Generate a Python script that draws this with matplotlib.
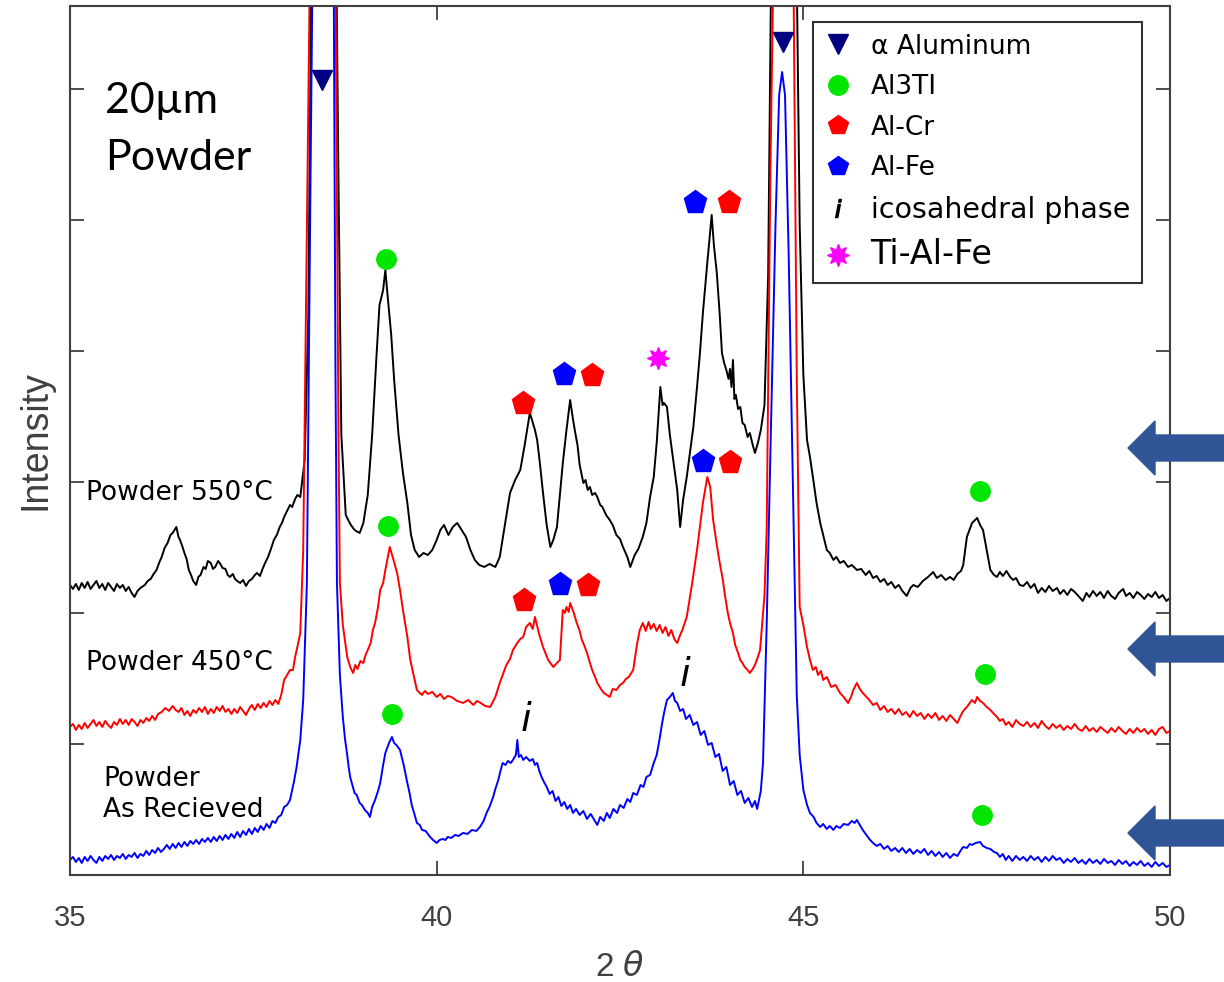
import numpy as np
import matplotlib
matplotlib.use("Agg")
import matplotlib.pyplot as plt
from matplotlib.lines import Line2D
from matplotlib.patches import Polygon

# XRD patterns: (2-theta in deg, intensity a.u.)
pattern_550 = [
    (35.00, 290), (35.04, 286), (35.08, 291), (35.12, 285), (35.16, 292), (35.20, 287),
    (35.24, 293), (35.28, 286), (35.32, 290), (35.36, 294), (35.40, 287), (35.44, 291),
    (35.48, 285), (35.52, 292), (35.56, 288), (35.60, 284), (35.64, 291), (35.68, 287),
    (35.72, 290), (35.76, 284), (35.80, 288), (35.84, 282), (35.88, 278), (35.92, 284),
    (35.96, 287), (36.02, 290), (36.06, 294), (36.10, 296), (36.14, 301), (36.18, 305),
    (36.22, 313), (36.25, 318), (36.29, 327), (36.33, 332), (36.37, 340), (36.40, 342),
    (36.45, 348), (36.48, 338), (36.50, 335), (36.53, 329), (36.56, 322), (36.59, 316),
    (36.62, 305), (36.65, 300), (36.68, 294), (36.72, 290), (36.75, 298), (36.78, 300),
    (36.82, 308), (36.85, 306), (36.88, 314), (36.92, 312), (36.95, 306), (36.98, 308),
    (37.02, 314), (37.05, 311), (37.08, 307), (37.12, 306), (37.15, 300), (37.18, 298),
    (37.22, 301), (37.25, 296), (37.28, 294), (37.32, 292), (37.36, 295), (37.40, 289),
    (37.44, 294), (37.48, 296), (37.52, 300), (37.55, 302), (37.59, 299), (37.62, 305),
    (37.66, 312), (37.70, 318), (37.74, 326), (37.78, 335), (37.82, 340), (37.86, 348),
    (37.89, 352), (37.92, 358), (37.96, 364), (38.00, 370), (38.03, 368), (38.07, 376),
    (38.10, 380), (38.14, 378), (38.20, 415), (38.25, 560),
    (38.29, 900), (38.36, 2600), (38.45, 4200), (38.54, 2600), (38.62, 1000), (38.66, 700),
    (38.70, 440), (38.76, 360), (38.80, 354), (38.83, 350), (38.87, 346), (38.90, 344),
    (38.95, 342), (39.00, 352),
    (39.06, 380), (39.12, 440), (39.18, 520), (39.22, 570), (39.27, 585), (39.30, 605),
    (39.33, 580), (39.38, 540), (39.42, 495), (39.48, 440), (39.54, 402), (39.60, 372),
    (39.65, 340), (39.70, 325), (39.76, 318), (39.82, 322), (39.88, 320), (39.94, 325),
    (40.00, 335), (40.05, 345), (40.10, 350), (40.16, 340), (40.22, 348), (40.28, 352),
    (40.34, 345), (40.40, 338), (40.46, 325), (40.52, 315), (40.58, 310), (40.65, 308),
    (40.72, 311), (40.80, 308), (40.86, 318), (40.93, 350), (41.00, 382), (41.07, 395),
    (41.14, 405), (41.20, 430), (41.27, 462), (41.30, 455), (41.34, 445), (41.37, 435),
    (41.41, 410), (41.45, 382), (41.50, 350), (41.55, 328), (41.59, 335), (41.64, 348),
    (41.68, 380), (41.72, 412), (41.77, 445), (41.82, 475), (41.86, 455), (41.89, 442),
    (41.92, 430), (41.95, 410), (42.00, 392), (42.03, 395), (42.06, 385), (42.09, 388),
    (42.12, 380), (42.16, 382), (42.19, 378), (42.23, 370), (42.26, 368), (42.31, 360),
    (42.36, 355), (42.40, 350), (42.45, 340), (42.50, 336), (42.54, 328), (42.60, 318),
    (42.64, 308), (42.70, 320), (42.75, 326), (42.81, 338), (42.86, 352), (42.91, 378),
    (42.96, 398), (43.00, 432), (43.05, 488), (43.08, 470), (43.10, 472), (43.14, 468),
    (43.18, 440), (43.22, 418), (43.28, 385), (43.32, 348), (43.36, 375), (43.41, 398),
    (43.45, 420), (43.50, 448),
    (43.55, 488), (43.59, 522), (43.63, 562), (43.69, 612), (43.75, 660), (43.78, 630),
    (43.82, 602), (43.86, 560), (43.89, 522), (43.92, 512), (43.95, 505), (43.98, 496),
    (44.00, 506), (44.02, 488), (44.04, 515), (44.06, 476), (44.08, 480), (44.11, 466),
    (44.14, 468), (44.17, 452), (44.20, 450), (44.24, 438), (44.27, 442), (44.31, 430),
    (44.34, 422), (44.38, 432), (44.42, 445), (44.47, 470),
    (44.52, 600), (44.56, 900), (44.65, 2500), (44.75, 4000), (44.85, 2500), (44.91, 900),
    (44.95, 650), (45.00, 500), (45.05, 435), (45.09, 418), (45.13, 398), (45.18, 372),
    (45.23, 352), (45.27, 340), (45.32, 325), (45.36, 322), (45.41, 315), (45.45, 318),
    (45.50, 312), (45.55, 314), (45.61, 308), (45.66, 310), (45.73, 305), (45.79, 306),
    (45.85, 300), (45.90, 304), (45.95, 297), (46.00, 299), (46.05, 293), (46.10, 296),
    (46.15, 290), (46.20, 293), (46.25, 287), (46.30, 290), (46.35, 284), (46.41, 279),
    (46.46, 287), (46.50, 290), (46.56, 288), (46.63, 294), (46.70, 298), (46.77, 303),
    (46.82, 297), (46.88, 300), (46.94, 295), (47.00, 298), (47.05, 295), (47.10, 301),
    (47.15, 304), (47.18, 310), (47.23, 338),
    (47.30, 352), (47.37, 357), (47.41, 350), (47.45, 345), (47.50, 325), (47.55, 305),
    (47.60, 300), (47.64, 298), (47.68, 303), (47.72, 299), (47.77, 304), (47.82, 298),
    (47.86, 295), (47.90, 297), (47.95, 290), (48.00, 289), (48.05, 293), (48.10, 287),
    (48.15, 291), (48.20, 282), (48.25, 287), (48.30, 283), (48.35, 289), (48.40, 284),
    (48.46, 287), (48.50, 281), (48.55, 285), (48.60, 280), (48.65, 286), (48.70, 283),
    (48.75, 279), (48.81, 274), (48.86, 282), (48.90, 278), (48.95, 284), (49.00, 279),
    (49.05, 283), (49.10, 277), (49.15, 284), (49.20, 279), (49.25, 276), (49.30, 282),
    (49.36, 286), (49.40, 279), (49.45, 282), (49.50, 277), (49.55, 283), (49.60, 280),
    (49.65, 276), (49.70, 281), (49.75, 278), (49.80, 283), (49.85, 277), (49.90, 280),
    (49.95, 274), (50.00, 277),
]

pattern_450 = [
    (35.00, 148), (35.04, 151), (35.08, 145), (35.12, 150), (35.16, 146), (35.20, 152),
    (35.24, 147), (35.28, 151), (35.32, 155), (35.36, 149), (35.40, 153), (35.44, 148),
    (35.48, 154), (35.52, 150), (35.56, 147), (35.60, 153), (35.64, 150), (35.68, 156),
    (35.72, 151), (35.76, 155), (35.80, 150), (35.84, 156), (35.88, 153), (35.92, 149),
    (35.96, 155), (36.00, 152), (36.04, 157), (36.08, 154), (36.12, 159), (36.16, 155),
    (36.20, 161), (36.25, 163), (36.30, 167), (36.35, 164), (36.40, 169), (36.44, 165),
    (36.48, 163), (36.52, 167), (36.56, 160), (36.60, 164), (36.64, 159), (36.68, 165),
    (36.72, 162), (36.76, 167), (36.80, 163), (36.84, 168), (36.88, 161), (36.92, 166),
    (36.96, 162), (37.00, 168), (37.04, 164), (37.08, 169), (37.12, 163), (37.16, 166),
    (37.20, 161), (37.24, 166), (37.28, 162), (37.32, 168), (37.36, 164), (37.40, 160),
    (37.44, 166), (37.48, 170), (37.52, 165), (37.56, 171), (37.60, 167), (37.64, 172),
    (37.68, 168), (37.72, 174), (37.76, 170), (37.80, 175), (37.84, 171), (37.88, 180),
    (37.92, 195), (37.96, 200), (38.00, 205), (38.04, 205), (38.07, 218), (38.10, 228),
    (38.14, 242), (38.18, 325), (38.23, 650),
    (38.27, 900), (38.35, 2400), (38.45, 3800), (38.55, 2400), (38.62, 900), (38.66, 450),
    (38.68, 292), (38.72, 250), (38.78, 218), (38.82, 208), (38.86, 202), (38.89, 210),
    (38.92, 206), (38.96, 214), (39.00, 212), (39.03, 220), (39.06, 225), (39.10, 232),
    (39.13, 245), (39.16, 252), (39.20, 268), (39.23, 285), (39.27, 292), (39.30, 305),
    (39.36, 328), (39.40, 318), (39.46, 302), (39.50, 285), (39.54, 265), (39.60, 238),
    (39.64, 215), (39.70, 195), (39.73, 185), (39.77, 182), (39.80, 180), (39.84, 184),
    (39.88, 181), (39.94, 183), (40.00, 178), (40.05, 181), (40.10, 176), (40.15, 179),
    (40.20, 178), (40.28, 174), (40.36, 172), (40.43, 175), (40.50, 170), (40.55, 174),
    (40.60, 172), (40.66, 169), (40.73, 168),
    (40.80, 178), (40.86, 192), (40.95, 210), (41.00, 216), (41.04, 225), (41.10, 232),
    (41.14, 236), (41.18, 238), (41.22, 248), (41.27, 252), (41.31, 246), (41.34, 258),
    (41.40, 240), (41.45, 228), (41.52, 215), (41.55, 212), (41.59, 208), (41.64, 212),
    (41.68, 215), (41.72, 265), (41.75, 262), (41.77, 268), (41.80, 263), (41.82, 272),
    (41.87, 262), (41.91, 252), (41.95, 244), (41.98, 235), (42.01, 230), (42.05, 222),
    (42.09, 212), (42.12, 205), (42.16, 198), (42.19, 192), (42.24, 186), (42.28, 182),
    (42.32, 180), (42.36, 178), (42.40, 186), (42.45, 185), (42.50, 190), (42.54, 192),
    (42.58, 196), (42.62, 198), (42.68, 205), (42.73, 230), (42.77, 245), (42.81, 252),
    (42.85, 244), (42.89, 253), (42.92, 246), (42.96, 251), (43.00, 244), (43.04, 250),
    (43.08, 242), (43.12, 248), (43.16, 239), (43.20, 245), (43.24, 236), (43.28, 232),
    (43.32, 240), (43.35, 245), (43.41, 258), (43.48, 290), (43.55, 325), (43.63, 372),
    (43.69, 398), (43.73, 388), (43.77, 355), (43.82, 330), (43.86, 312), (43.90, 296),
    (43.93, 280), (43.97, 262), (44.00, 252), (44.04, 242), (44.07, 230), (44.11, 222),
    (44.14, 215), (44.17, 212), (44.20, 208), (44.24, 205), (44.27, 202), (44.31, 206),
    (44.34, 210), (44.38, 218), (44.41, 225), (44.47, 280),
    (44.50, 345), (44.55, 700), (44.61, 1000), (44.68, 2500),
    (44.75, 3600), (44.80, 2400), (44.86, 950), (44.91, 500), (44.95, 268), (45.00, 250),
    (45.05, 228), (45.09, 215), (45.13, 205), (45.17, 208), (45.20, 200), (45.24, 204),
    (45.27, 195), (45.32, 198), (45.38, 188), (45.44, 190), (45.50, 182), (45.55, 178),
    (45.61, 172), (45.65, 178), (45.68, 185), (45.73, 192), (45.77, 186), (45.81, 182),
    (45.86, 178), (45.90, 175), (45.95, 170), (46.00, 172), (46.05, 165), (46.10, 169),
    (46.15, 163), (46.20, 166), (46.25, 161), (46.30, 166), (46.35, 160), (46.40, 163),
    (46.45, 158), (46.50, 164), (46.55, 159), (46.60, 162), (46.65, 156), (46.70, 161),
    (46.75, 157), (46.80, 162), (46.85, 155), (46.90, 159), (46.95, 154), (47.00, 160),
    (47.05, 156), (47.10, 152), (47.15, 160), (47.18, 164), (47.23, 168),
    (47.30, 175), (47.34, 172), (47.37, 178), (47.41, 174), (47.45, 172), (47.50, 168),
    (47.55, 165), (47.60, 161), (47.64, 158), (47.68, 154), (47.72, 156), (47.76, 150),
    (47.80, 153), (47.85, 148), (47.90, 155), (47.95, 151), (48.00, 149), (48.05, 153),
    (48.10, 148), (48.15, 152), (48.20, 147), (48.25, 154), (48.30, 149), (48.35, 146),
    (48.40, 151), (48.45, 147), (48.50, 150), (48.55, 145), (48.60, 149), (48.65, 146),
    (48.70, 151), (48.75, 146), (48.80, 144), (48.85, 149), (48.90, 144), (48.95, 147),
    (49.00, 143), (49.05, 148), (49.10, 145), (49.15, 142), (49.20, 147), (49.25, 143),
    (49.30, 148), (49.35, 144), (49.40, 141), (49.45, 146), (49.50, 142), (49.55, 147),
    (49.60, 143), (49.65, 146), (49.70, 141), (49.75, 145), (49.80, 140), (49.85, 146),
    (49.90, 148), (49.95, 142), (50.00, 144),
]

pattern_recv = [
    (35.00, 15), (35.04, 18), (35.08, 13), (35.12, 17), (35.16, 12), (35.20, 18),
    (35.24, 14), (35.28, 19), (35.32, 15), (35.36, 12), (35.40, 18), (35.44, 14),
    (35.48, 19), (35.52, 16), (35.56, 20), (35.60, 15), (35.64, 19), (35.68, 17),
    (35.72, 21), (35.76, 16), (35.80, 20), (35.84, 18), (35.88, 22), (35.92, 17),
    (35.96, 21), (36.00, 19), (36.04, 24), (36.08, 20), (36.12, 25), (36.16, 22),
    (36.20, 27), (36.24, 23), (36.28, 26), (36.32, 30), (36.36, 26), (36.40, 31),
    (36.44, 27), (36.48, 32), (36.52, 28), (36.56, 33), (36.60, 29), (36.64, 34),
    (36.68, 31), (36.72, 35), (36.76, 31), (36.80, 36), (36.84, 33), (36.88, 37),
    (36.92, 33), (36.96, 38), (37.00, 34), (37.04, 39), (37.08, 35), (37.12, 40),
    (37.16, 36), (37.20, 41), (37.24, 37), (37.28, 43), (37.32, 38), (37.36, 44),
    (37.40, 40), (37.44, 46), (37.48, 41), (37.52, 47), (37.56, 43), (37.60, 49),
    (37.64, 45), (37.68, 51), (37.72, 47), (37.76, 54), (37.80, 52), (37.84, 58),
    (37.88, 60), (37.92, 68), (37.96, 70), (38.00, 75), (38.05, 92), (38.09, 108),
    (38.14, 135), (38.18, 175), (38.23, 292), (38.28, 700),
    (38.32, 1000), (38.40, 2400), (38.47, 3200), (38.54, 2400), (38.59, 1000), (38.62, 500),
    (38.64, 292), (38.68, 200), (38.72, 158), (38.75, 136), (38.78, 120), (38.80, 108),
    (38.82, 98), (38.85, 90), (38.88, 82), (38.91, 80), (38.95, 72), (38.98, 70),
    (39.02, 65), (39.06, 62), (39.09, 58), (39.12, 68), (39.16, 75), (39.20, 84),
    (39.23, 92), (39.27, 110), (39.30, 122), (39.35, 132), (39.39, 138), (39.42, 132),
    (39.45, 130), (39.48, 127), (39.50, 125), (39.55, 110), (39.60, 92), (39.63, 82),
    (39.66, 70), (39.70, 60), (39.73, 52), (39.77, 50), (39.80, 45), (39.85, 44),
    (39.91, 38), (39.95, 35), (40.00, 32), (40.04, 35), (40.08, 36), (40.12, 35),
    (40.15, 38), (40.20, 37), (40.25, 40), (40.30, 39), (40.36, 42), (40.42, 41),
    (40.48, 45), (40.54, 44), (40.59, 48), (40.64, 54),
    (40.68, 62), (40.72, 68), (40.77, 78), (40.80, 86), (40.84, 95), (40.87, 104),
    (40.90, 112), (40.94, 110), (40.97, 114), (41.01, 112), (41.04, 115), (41.08, 120),
    (41.10, 135), (41.12, 118), (41.15, 120), (41.18, 115), (41.22, 118), (41.27, 114),
    (41.31, 116), (41.34, 110), (41.37, 112), (41.40, 104),
    (41.43, 98), (41.47, 92), (41.50, 88), (41.54, 81), (41.58, 84), (41.62, 74),
    (41.66, 78), (41.70, 69), (41.74, 73), (41.78, 66), (41.82, 70), (41.86, 62),
    (41.90, 66), (41.95, 60), (42.00, 64), (42.05, 56), (42.10, 61), (42.15, 55),
    (42.19, 50), (42.23, 58), (42.28, 54), (42.32, 62), (42.36, 57), (42.41, 66),
    (42.46, 62), (42.50, 70), (42.55, 67), (42.60, 76), (42.64, 73), (42.68, 82),
    (42.73, 80), (42.78, 90), (42.82, 88), (42.86, 98), (42.91, 100), (42.96, 112),
    (43.00, 120), (43.04, 136), (43.07, 150), (43.10, 162), (43.14, 175), (43.18, 178),
    (43.22, 182), (43.25, 174), (43.28, 172), (43.32, 164), (43.36, 166), (43.40, 156),
    (43.45, 160), (43.50, 150), (43.55, 153), (43.60, 140), (43.65, 144), (43.70, 130),
    (43.75, 132), (43.80, 118), (43.85, 121), (43.90, 104), (43.95, 108), (44.00, 90),
    (44.05, 94), (44.10, 80), (44.15, 84), (44.20, 72), (44.25, 77), (44.30, 68),
    (44.34, 74), (44.37, 66), (44.42, 84), (44.45, 112), (44.50, 250), (44.55, 420),
    (44.62, 650), (44.67, 780), (44.71, 803), (44.75, 780), (44.80, 620), (44.86, 380),
    (44.91, 180), (44.95, 120), (45.00, 85), (45.05, 70), (45.09, 62), (45.14, 58),
    (45.18, 52), (45.23, 48), (45.27, 51), (45.32, 46), (45.36, 49), (45.41, 45),
    (45.45, 49), (45.50, 47), (45.55, 51), (45.61, 50), (45.66, 54), (45.70, 52),
    (45.73, 55), (45.77, 50), (45.81, 45), (45.86, 40),
    (45.91, 35), (45.95, 32), (46.00, 29), (46.05, 31), (46.10, 26), (46.15, 29),
    (46.20, 24), (46.25, 27), (46.30, 23), (46.35, 27), (46.40, 22), (46.45, 26),
    (46.50, 21), (46.55, 25), (46.60, 22), (46.65, 26), (46.70, 20), (46.75, 24),
    (46.80, 19), (46.85, 23), (46.90, 18), (46.95, 22), (47.00, 17), (47.05, 21),
    (47.10, 19), (47.15, 25), (47.18, 28), (47.23, 27), (47.27, 31), (47.30, 30),
    (47.35, 32), (47.41, 33), (47.45, 29), (47.50, 27), (47.55, 26), (47.60, 23),
    (47.64, 22), (47.68, 18), (47.72, 21), (47.76, 15), (47.80, 19), (47.85, 14),
    (47.90, 19), (47.95, 15), (48.00, 18), (48.05, 14), (48.10, 19), (48.15, 15),
    (48.20, 18), (48.25, 13), (48.30, 18), (48.35, 14), (48.40, 19), (48.45, 15),
    (48.50, 17), (48.55, 12), (48.60, 16), (48.65, 13), (48.70, 17), (48.75, 12),
    (48.80, 15), (48.85, 11), (48.90, 16), (48.95, 12), (49.00, 15), (49.05, 11),
    (49.10, 16), (49.15, 12), (49.20, 14), (49.25, 10), (49.30, 15), (49.35, 11),
    (49.40, 14), (49.45, 9), (49.50, 13), (49.55, 10), (49.60, 14), (49.65, 9),
    (49.70, 12), (49.75, 8), (49.80, 13), (49.85, 9), (49.90, 12), (49.95, 8),
    (50.00, 10),
]

# phase identification marks (2-theta, height on plot)
alpha_al_x = [38.44, 44.72]
alpha_al_y = [795, 833]
al3ti_x = [39.31, 39.34, 39.39, 47.41, 47.48, 47.44]
al3ti_y = [616, 349, 161, 384, 201, 60]
alcr_x = [41.18, 42.12, 43.99, 41.19, 42.06, 44.00]
alcr_y = [472, 500, 673, 275, 290, 413]
alfe_x = [41.74, 43.52, 41.68, 43.63]
alfe_y = [501, 673, 291, 414]
tialfe_x = [43.02]
tialfe_y = [517]
ico_x = [41.22, 43.39]
ico_y = [155, 200]

NAVY = '#000080'
GREEN = '#00e600'
RED = '#ff0000'
BLUE = '#0000ff'
MAGENTA = '#ff00ff'
GREY = '#404040'

fig = plt.figure(figsize=(12.24, 9.82), dpi=100)
ax = fig.add_axes([0.0572, 0.109, 0.8987, 0.8849])

for pat, col in [(pattern_550, 'black'), (pattern_450, RED), (pattern_recv, BLUE)]:
    x, y = np.array(pat).T
    ax.plot(x, y, color=col, lw=1.4, zorder=2)

ax.plot(alpha_al_x, alpha_al_y, 'v', color=NAVY, ms=15, zorder=4)
ax.plot(al3ti_x, al3ti_y, 'o', color=GREEN, ms=14, zorder=4)
ax.plot(alcr_x, alcr_y, 'p', color=RED, ms=17, zorder=4)
ax.plot(alfe_x, alfe_y, 'p', color=BLUE, ms=17, zorder=4)
ax.plot(tialfe_x, tialfe_y, marker=(8, 1, 0), ls='none', color=MAGENTA, ms=16, zorder=4)
for xi, yi in zip(ico_x, ico_y):
    ax.text(xi, yi, 'i', style='italic', fontsize=28, ha='center', va='center',
            family='DejaVu Sans', zorder=4)

# sample labels
ax.text(35.22, 382, 'Powder 550°C', fontsize=19, ha='left', va='center')
ax.text(35.22, 212, 'Powder 450°C', fontsize=19, ha='left', va='center')
ax.text(35.45, 80, 'Powder\nAs Recieved', fontsize=19, ha='left', va='center',
        linespacing=1.25)
ax.text(35.48, 793, '20µm\nPowder', fontsize=31, ha='left', va='top',
        family='Lato', linespacing=1.6)

ax.set_xlim(35, 50)
ax.set_ylim(0, 869)
ax.set_xticks([35, 40, 45, 50])
ax.set_yticks(np.arange(0, 869, 131))
ax.tick_params(direction='in', length=10, width=1.3, top=True, right=True,
               labelleft=False, color=GREY, labelcolor=GREY, labelsize=21, pad=21)
for lab in ax.get_xticklabels():
    lab.set_family('Liberation Sans')
for sp in ax.spines.values():
    sp.set_linewidth(1.5)
    sp.set_color(GREY)
ax.set_xlabel(r'2 $\theta$', fontsize=24, color=GREY, labelpad=14, family='Liberation Sans')
ax.set_ylabel('Intensity', fontsize=27, color=GREY, labelpad=12, family='Liberation Sans')

handles = [
    Line2D([], [], ls='none', marker='v', color=NAVY, ms=14, label='α Aluminum'),
    Line2D([], [], ls='none', marker='o', color=GREEN, ms=14, label='Al3TI'),
    Line2D([], [], ls='none', marker='p', color=RED, ms=15, label='Al-Cr'),
    Line2D([], [], ls='none', marker='p', color=BLUE, ms=15, label='Al-Fe'),
    Line2D([], [], ls='none', marker='$i$', color='black', ms=13, label='icosahedral phase'),
    Line2D([], [], ls='none', marker=(8, 1, 0), color=MAGENTA, ms=16, label='Ti-Al-Fe'),
]
leg = ax.legend(handles=handles, loc='upper left', bbox_to_anchor=(0.675, 0.982),
                borderaxespad=0, fontsize=19, frameon=True, fancybox=False,
                handlelength=1.0, handletextpad=0.75, labelspacing=0.55,
                borderpad=0.45)
leg.get_frame().set_edgecolor('black')
leg.get_frame().set_linewidth(1.5)
leg.get_texts()[4].set_fontsize(20.5)
leg.get_texts()[-1].set_fontsize(24)

# arrows outside the plot on the right (figure pixel coords, top-left origin)
for yc in [448, 649, 833]:
    pts = [(1128, yc), (1155, yc - 27), (1155, yc - 13), (1224, yc - 13),
           (1224, yc + 13), (1155, yc + 13), (1155, yc + 27)]
    pts = [(px / 100, (982 - py) / 100) for px, py in pts]
    fig.patches.append(Polygon(pts, closed=True, color='#2f5597',
                               transform=fig.dpi_scale_trans, zorder=5))

fig.savefig('out.png', dpi=100)
